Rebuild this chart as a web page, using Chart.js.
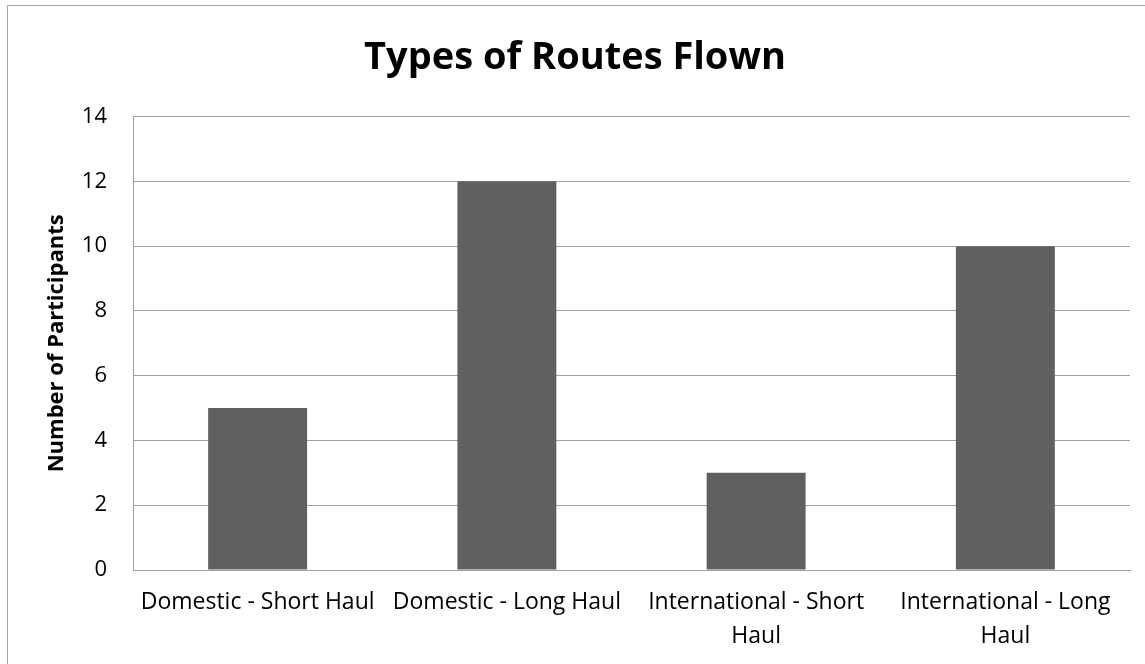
<!DOCTYPE html>
<html>
<head>
<meta charset="utf-8">
<script src="https://cdn.jsdelivr.net/npm/chart.js@4/dist/chart.umd.min.js"></script>
<style>
  body { margin: 0; background: #fff; }
  #wrap { position: relative; width: 1145px; height: 664px; overflow: hidden; }
  #frame { position: absolute; left: 7px; top: 5px; width: 1160px; height: 700px; border: 1px solid #a6a6a6; }
  canvas { position: absolute; left: 0; top: 0; }
</style>
</head>
<body>
<div id="wrap">
  <div id="frame"></div>
  <canvas id="chart" width="1145" height="664"></canvas>
</div>
<script>
// Chart data
const categories = [
  "Domestic - Short Haul",
  "Domestic - Long Haul",
  ["International - Short", "Haul"],
  ["International - Long", "Haul"]
];
const participants = [5, 12, 3, 10];
const yTicks = [0, 2, 4, 6, 8, 10, 12, 14];

const fontFamily = "'Open Sans', sans-serif";

new Chart(document.getElementById("chart"), {
  type: "bar",
  data: {
    labels: categories,
    datasets: [{
      label: "Number of Participants",
      data: participants,
      backgroundColor: "#606060",
      barPercentage: 0.397,
      categoryPercentage: 1
    }]
  },
  options: {
    responsive: false,
    animation: false,
    layout: { padding: { left: 20, right: 15, top: 0, bottom: 0 } },
    plugins: {
      legend: { display: false },
      tooltip: { enabled: false },
      title: {
        display: true,
        text: "Types of Routes Flown",
        color: "#000",
        font: { family: fontFamily, size: 38, weight: "bold" },
        padding: { top: 35, bottom: 36 }
      }
    },
    scales: {
      x: {
        grid: { display: false, drawTicks: false },
        border: { color: "#a0a0a0" },
        ticks: {
          color: "#000",
          padding: 15,
          maxRotation: 0,
          autoSkip: false,
          font: { family: fontFamily, size: 23, lineHeight: 1.48 }
        },
        afterFit: s => { s.height = 94; }
      },
      y: {
        min: 0,
        max: 14,
        afterBuildTicks: s => { s.ticks = yTicks.map(v => ({ value: v })); },
        grid: { color: "#a0a0a0", drawTicks: false },
        border: { color: "#a0a0a0" },
        ticks: {
          color: "#000",
          padding: 26,
          font: { family: fontFamily, size: 22 }
        },
        title: {
          display: true,
          text: "Number of Participants",
          color: "#000",
          font: { family: fontFamily, size: 22, weight: "bold" },
          padding: { top: 24, bottom: 0 }
        },
        afterFit: s => { s.width = 113; }
      }
    }
  }
});
</script>
</body>
</html>
